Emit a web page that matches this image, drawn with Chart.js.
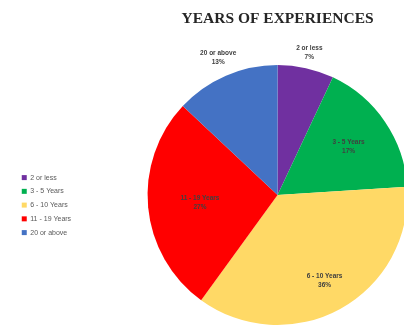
<!DOCTYPE html>
<html lang="en">
<head>
    <meta charset="UTF-8">
    <title>Years of Experiences</title>
    <script src="https://cdn.jsdelivr.net/npm/chart.js@4.4.1/dist/chart.umd.min.js"></script>
    <style>
        html, body { margin: 0; padding: 0; background: #fff; }
        .wrap { width: 404px; height: 333px; overflow: hidden; position: relative; }
        #expChart { position: absolute; left: 0; top: 0; }
    </style>
</head>
<body>
    <div class="wrap">
        <canvas id="expChart" width="474" height="333"></canvas>
    </div>

    <script>
        // Experience groups and their share of respondents (%)
        const groups = ['2 or less', '3 - 5 Years', '6 - 10 Years', '11 - 19 Years', '20 or above'];
        const shares = [7, 17, 36, 27, 13];
        const sliceColors = ['#7030A0', '#00B050', '#FFD966', '#FF0000', '#4472C4'];

        // where each slice label sits, as a fraction of the radius
        const labelRadius = [1.12, 0.66, 0.75, 0.6, 1.15];

        // writes "group / xx%" on every slice
        const sliceLabels = {
            id: 'sliceLabels',
            afterDatasetsDraw(chart) {
                const ctx = chart.ctx;
                const meta = chart.getDatasetMeta(0);
                const total = shares.reduce((a, b) => a + b, 0);
                ctx.save();
                ctx.font = 'bold 6.5px "Liberation Sans", Arial, sans-serif';
                ctx.fillStyle = '#404040';
                ctx.textAlign = 'center';
                ctx.textBaseline = 'middle';
                meta.data.forEach((arc, i) => {
                    const p = arc.getProps(['x', 'y', 'startAngle', 'endAngle', 'outerRadius'], true);
                    const mid = (p.startAngle + p.endAngle) / 2;
                    const r = p.outerRadius * labelRadius[i];
                    const x = p.x + Math.cos(mid) * r;
                    const y = p.y + Math.sin(mid) * r;
                    const pct = Math.round(shares[i] / total * 100) + '%';
                    ctx.fillText(groups[i], x, y - 4.5);
                    ctx.fillText(pct, x, y + 4.5);
                });
                ctx.restore();
            }
        };

        new Chart(document.getElementById('expChart'), {
            type: 'pie',
            data: {
                labels: groups,
                datasets: [{
                    data: shares,
                    backgroundColor: sliceColors,
                    borderWidth: 0
                }]
            },
            options: {
                responsive: false,
                animation: false,
                radius: 130,
                layout: { padding: { left: 15, right: 0, top: 0, bottom: 8 } },
                plugins: {
                    title: {
                        display: true,
                        text: 'YEARS OF EXPERIENCES',
                        fullSize: false,
                        color: '#262626',
                        font: { family: '"Liberation Serif", "DejaVu Serif", serif', size: 15.5, weight: 'bold' },
                        padding: { top: 10, bottom: 36.4 }
                    },
                    legend: {
                        position: 'left',
                        fullSize: false,
                        // empty title only pushes the entries a little lower
                        title: { display: true, text: '', font: { size: 1 }, padding: 9.5 },
                        labels: {
                            boxWidth: 5,
                            boxHeight: 5,
                            padding: 6.75,
                            color: '#595959',
                            font: { family: '"Liberation Sans", Arial, sans-serif', size: 7 }
                        }
                    },
                    tooltip: { enabled: false }
                }
            },
            plugins: [sliceLabels]
        });
    </script>
</body>
</html>
